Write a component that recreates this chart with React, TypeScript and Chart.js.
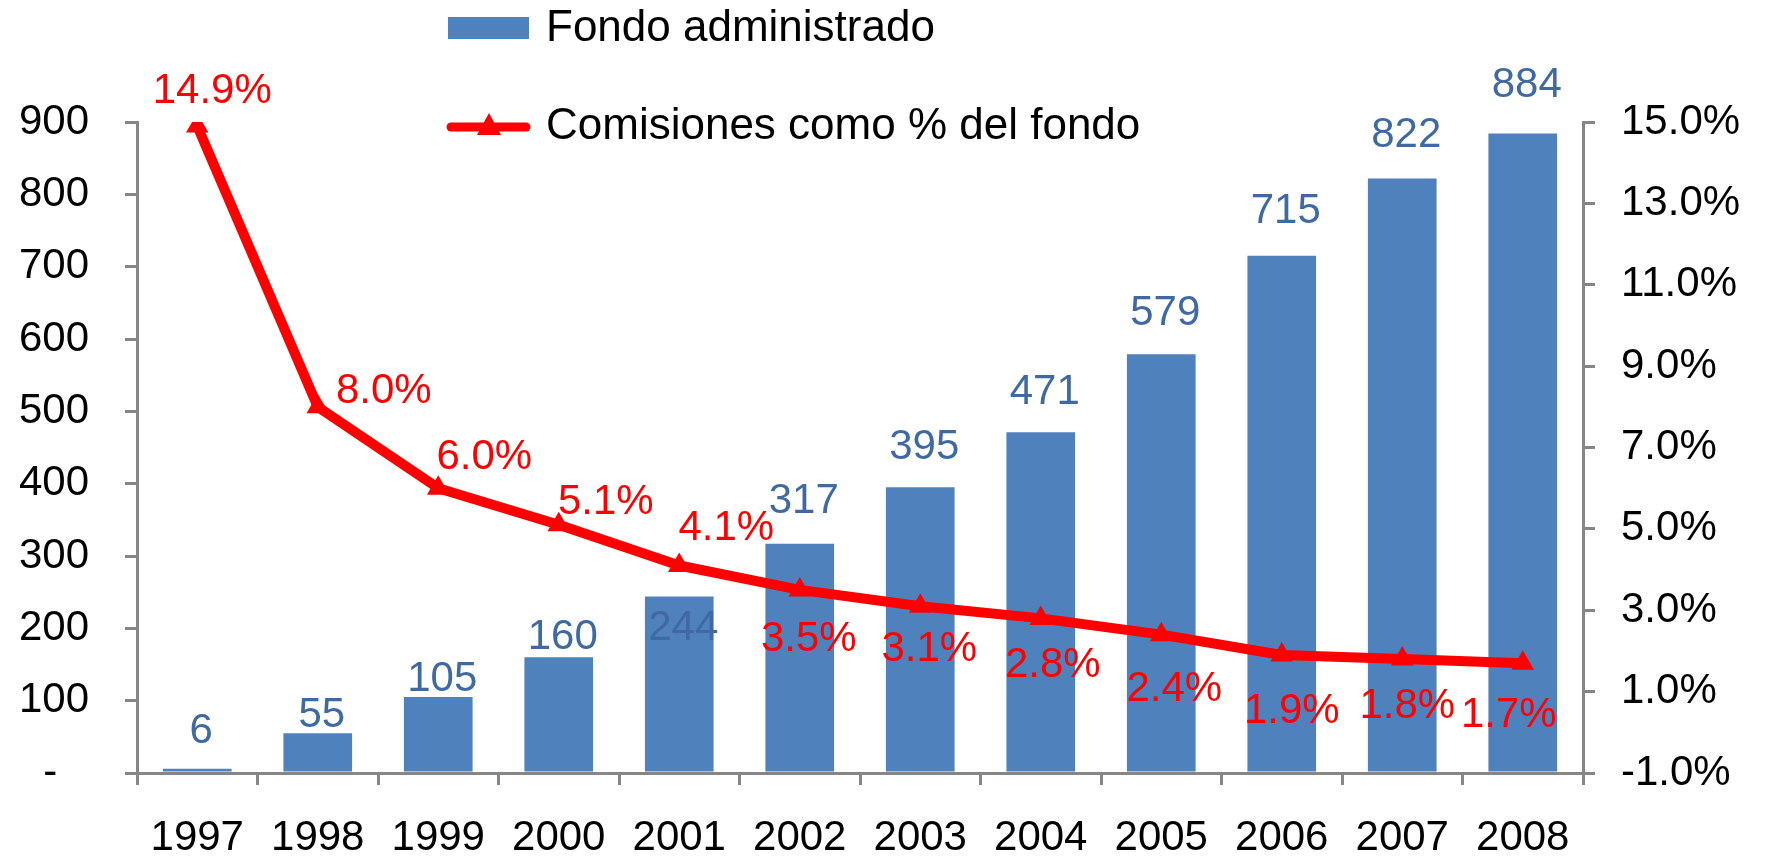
import React, { useEffect, useRef } from "react";
import { Chart, registerables } from "chart.js";

Chart.register(...registerables);

const years = ["1997", "1998", "1999", "2000", "2001", "2002", "2003", "2004", "2005", "2006", "2007", "2008"];
const fondoAdministrado = [6, 55, 105, 160, 244, 317, 395, 471, 579, 715, 822, 884];
const comisionesPct = [14.9, 8.0, 6.0, 5.1, 4.1, 3.5, 3.1, 2.8, 2.4, 1.9, 1.8, 1.7];
const fondoLabels = ["6", "55", "105", "160", "244", "317", "395", "471", "579", "715", "822", "884"];
const comisionesLabels = ["14.9%", "8.0%", "6.0%", "5.1%", "4.1%", "3.5%", "3.1%", "2.8%", "2.4%", "1.9%", "1.8%", "1.7%"];
const legendNames = ["Fondo administrado", "Comisiones como % del fondo"];

// label placement nudges (px), relative to bar top / line point
const barLabelDx = 4;
const barLabelDy = [-37, -18, -18, -20, 32, -42, -40, -40, -41, -44, -43, -48];
const lineLabelDx = [15, 66, 46, 47, 47, 9, 9, 12, 13, 10, 5, -14];
const lineLabelDy = [-35, -15, -31, -22, -37, 50, 43, 47, 55, 56, 47, 52];

const FONT = '"Liberation Sans", Arial, Helvetica, sans-serif';
const BAR_COLOR = "#4F81BD";
const LINE_COLOR = "#FF0000";
const AXIS_COLOR = "#868686";
const BAR_LABEL_COLOR = "#3F69A2";

const labelsPlugin = {
  id: "customLabels",
  afterDatasetsDraw(chart: any) {
    const ctx = chart.ctx;
    ctx.save();
    ctx.textAlign = "center";
    ctx.textBaseline = "middle";
    ctx.font = `42px ${FONT}`;
    const barMeta = chart.getDatasetMeta(0);
    barMeta.data.forEach((el: any, i: number) => {
      ctx.fillStyle = BAR_LABEL_COLOR;
      ctx.fillText(fondoLabels[i], el.x + barLabelDx, el.y + barLabelDy[i]);
    });
    const lineMeta = chart.getDatasetMeta(1);
    lineMeta.data.forEach((el: any, i: number) => {
      ctx.fillStyle = LINE_COLOR;
      ctx.fillText(comisionesLabels[i], el.x + lineLabelDx[i], el.y + lineLabelDy[i]);
    });
    ctx.restore();
  },
  afterDraw(chart: any) {
    const ctx = chart.ctx;
    ctx.save();
    // legend entry 1: bar
    ctx.fillStyle = BAR_COLOR;
    ctx.fillRect(448, 17, 81, 22);
    ctx.fillStyle = "#000";
    ctx.font = `44px ${FONT}`;
    ctx.textAlign = "left";
    ctx.textBaseline = "middle";
    ctx.fillText(legendNames[0], 546, 29);
    // legend entry 2: line with triangle
    ctx.strokeStyle = LINE_COLOR;
    ctx.lineWidth = 9;
    ctx.lineCap = "round";
    ctx.beginPath();
    ctx.moveTo(451, 127);
    ctx.lineTo(526, 127);
    ctx.stroke();
    ctx.fillStyle = LINE_COLOR;
    ctx.beginPath();
    ctx.moveTo(489, 113);
    ctx.lineTo(501, 135);
    ctx.lineTo(477, 135);
    ctx.closePath();
    ctx.fill();
    ctx.fillStyle = "#000";
    ctx.fillText(legendNames[1], 546, 127);
    ctx.restore();
  },
};

export default function App() {
  const canvasRef = useRef<HTMLCanvasElement | null>(null);

  useEffect(() => {
    if (!canvasRef.current) return;
    const chart = new Chart(canvasRef.current, {
      type: "bar",
      data: {
        labels: years,
        datasets: [
          {
            type: "bar",
            label: legendNames[0],
            data: fondoAdministrado,
            backgroundColor: BAR_COLOR,
            borderWidth: 0,
            barPercentage: 0.57,
            categoryPercentage: 1.0,
            yAxisID: "y",
            order: 1,
          } as any,
          {
            type: "line",
            label: legendNames[1],
            data: comisionesPct,
            borderColor: LINE_COLOR,
            backgroundColor: LINE_COLOR,
            borderWidth: 10,
            borderJoinStyle: "round",
            pointStyle: "triangle",
            pointRadius: 13,
            pointBackgroundColor: LINE_COLOR,
            pointBorderColor: LINE_COLOR,
            pointBorderWidth: 0,
            tension: 0,
            yAxisID: "y1",
            order: 0,
          } as any,
        ],
      },
      options: {
        responsive: false,
        animation: false,
        layout: { padding: { top: 122, left: 0, right: 0, bottom: 0 } },
        plugins: {
          legend: { display: false },
          tooltip: { enabled: false },
        },
        scales: {
          x: {
            type: "category",
            offset: true,
            grid: {
              offset: true,
              drawOnChartArea: false,
              drawTicks: true,
              tickLength: 12,
              color: AXIS_COLOR,
              lineWidth: 3,
            },
            border: { display: true, color: AXIS_COLOR, width: 3 },
            ticks: { color: "#000", font: { size: 42, family: FONT }, padding: 28, maxRotation: 0 },
            afterFit: (scale: any) => {
              scale.height = 91;
            },
          },
          y: {
            position: "left",
            min: 0,
            max: 900,
            grid: {
              drawOnChartArea: false,
              drawTicks: true,
              tickLength: 12,
              color: AXIS_COLOR,
              lineWidth: 3,
            },
            border: { display: true, color: AXIS_COLOR, width: 3 },
            ticks: {
              stepSize: 100,
              color: "#000",
              font: { size: 42, family: FONT },
              padding: 36,
              callback: (v: any) => (Number(v) === 0 ? "-  \u2009" : String(v)),
            },
            afterFit: (scale: any) => {
              scale.width = 137;
            },
          },
          y1: {
            position: "right",
            min: -1,
            max: 15,
            grid: {
              drawOnChartArea: false,
              drawTicks: true,
              tickLength: 12,
              color: AXIS_COLOR,
              lineWidth: 3,
            },
            border: { display: true, color: AXIS_COLOR, width: 3 },
            ticks: {
              stepSize: 2,
              color: "#000",
              font: { size: 42, family: FONT },
              padding: 26,
              callback: (v: any) => Number(v).toFixed(1) + "%",
            },
            afterFit: (scale: any) => {
              scale.width = 182;
            },
          },
        },
      } as any,
      plugins: [labelsPlugin],
    });
    return () => chart.destroy();
  }, []);

  return (
    <div style={{ position: "absolute", left: 0, top: 0, width: 1765, height: 864, background: "#fff" }}>
      <canvas ref={canvasRef} width={1765} height={864} />
    </div>
  );
}
